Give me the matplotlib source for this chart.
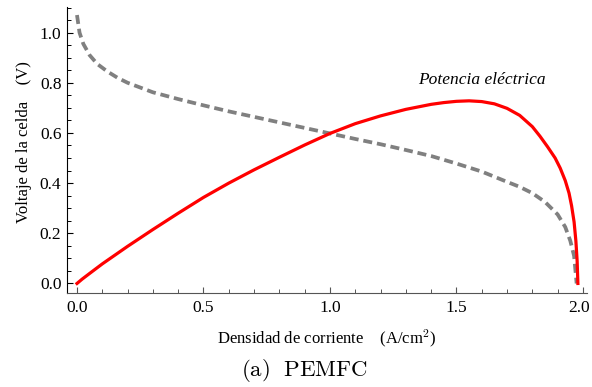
import matplotlib
matplotlib.use("Agg")
import matplotlib.pyplot as plt
from matplotlib.ticker import MultipleLocator
from matplotlib.transforms import ScaledTranslation

# Polarization curve (cell voltage vs current density)
current_v = [0.0, 0.01, 0.025, 0.05, 0.08, 0.12, 0.16, 0.2, 0.3, 0.4, 0.5,
             0.6, 0.7, 0.8, 0.9, 1.0, 1.1, 1.2, 1.3, 1.4, 1.5, 1.6, 1.7,
             1.75, 1.8, 1.85, 1.9, 1.93, 1.95, 1.965, 1.975]
voltage = [1.07, 1.0, 0.955, 0.91, 0.875, 0.845, 0.82, 0.80, 0.762, 0.735,
           0.71, 0.686, 0.664, 0.642, 0.62, 0.598, 0.576, 0.555, 0.532,
           0.508, 0.478, 0.446, 0.405, 0.385, 0.36, 0.325, 0.275, 0.225,
           0.17, 0.11, 0.0]

# Electric power curve
current_p = [0.0, 0.02, 0.05, 0.1, 0.2, 0.3, 0.4, 0.5, 0.6, 0.7, 0.8, 0.9,
             1.0, 1.1, 1.2, 1.3, 1.4, 1.45, 1.5, 1.55, 1.6, 1.65, 1.7, 1.75,
             1.8, 1.83, 1.86, 1.89, 1.91, 1.93, 1.945, 1.955, 1.965, 1.972,
             1.977, 1.98]
power = [0.0, 0.017, 0.04, 0.078, 0.148, 0.215, 0.28, 0.343, 0.40, 0.453,
         0.503, 0.552, 0.598, 0.637, 0.668, 0.694, 0.714, 0.721, 0.726,
         0.728, 0.725, 0.716, 0.698, 0.67, 0.625, 0.587, 0.545, 0.50, 0.46,
         0.41, 0.36, 0.31, 0.245, 0.17, 0.09, 0.0]

xlabel = "Densidad de corriente    (A/cm$^2$)"
ylabel = "Voltaje de la celda    (V)"
power_label = "Potencia eléctrica"
caption = r"$\mathrm{(a)\ \ PEMFC}$"

plt.rcParams["font.family"] = ["Liberation Serif", "DejaVu Serif"]
plt.rcParams["mathtext.fontset"] = "cm"

fig = plt.figure(figsize=(5.92, 3.87), dpi=100)
ax = fig.add_axes([67 / 592, 1 - 293 / 387, 520 / 592, 286 / 387])

ax.plot(current_v, voltage, color="#808080", lw=2.7, dashes=(2.4, 1.3),
        dash_capstyle="butt")
ax.plot(current_p, power, color="#ff0000", lw=2.3)

ax.text(1.6, 0.81, power_label, style="italic", fontsize=12.5,
        ha="center", va="center")

ax.set_xlim(-0.0395, 2.016)
ax.set_ylim(-0.038, 1.102)

for side in ("top", "right"):
    ax.spines[side].set_visible(False)
ax.spines["bottom"].set_color("#555555")
ax.spines["left"].set_color("black")

ax.xaxis.set_major_locator(MultipleLocator(0.5))
ax.xaxis.set_minor_locator(MultipleLocator(0.1))
ax.yaxis.set_major_locator(MultipleLocator(0.2))
ax.yaxis.set_minor_locator(MultipleLocator(0.05))
ax.xaxis.set_major_formatter(plt.FormatStrFormatter("%.1f"))
ax.yaxis.set_major_formatter(plt.FormatStrFormatter("%.1f"))
ax.tick_params(which="major", direction="in", length=4.5, width=0.8,
               labelsize=12.5, pad=4)
ax.tick_params(which="minor", direction="in", length=2.8, width=0.7)
ax.tick_params(axis="x", which="both", color="#555555")
ax.tick_params(axis="x", which="major", pad=5)

# nudge the last x tick label so it stays inside the figure
for loc, tick in zip(ax.xaxis.get_majorticklocs(), ax.xaxis.get_major_ticks()):
    if abs(loc - 2.0) < 1e-6:
        lab = tick.label1
        lab.set_transform(lab.get_transform()
                          + ScaledTranslation(-3 / 72, 0, fig.dpi_scale_trans))

ax.set_xlabel(xlabel, fontsize=12, labelpad=8)
ax.set_ylabel(ylabel, fontsize=12)
ax.yaxis.set_label_coords(-0.067, 0.528)

fig.text(304 / 592, 1 - 370 / 387, caption, fontsize=16.5,
         ha="center", va="center")

fig.savefig("out.png", dpi=100)
